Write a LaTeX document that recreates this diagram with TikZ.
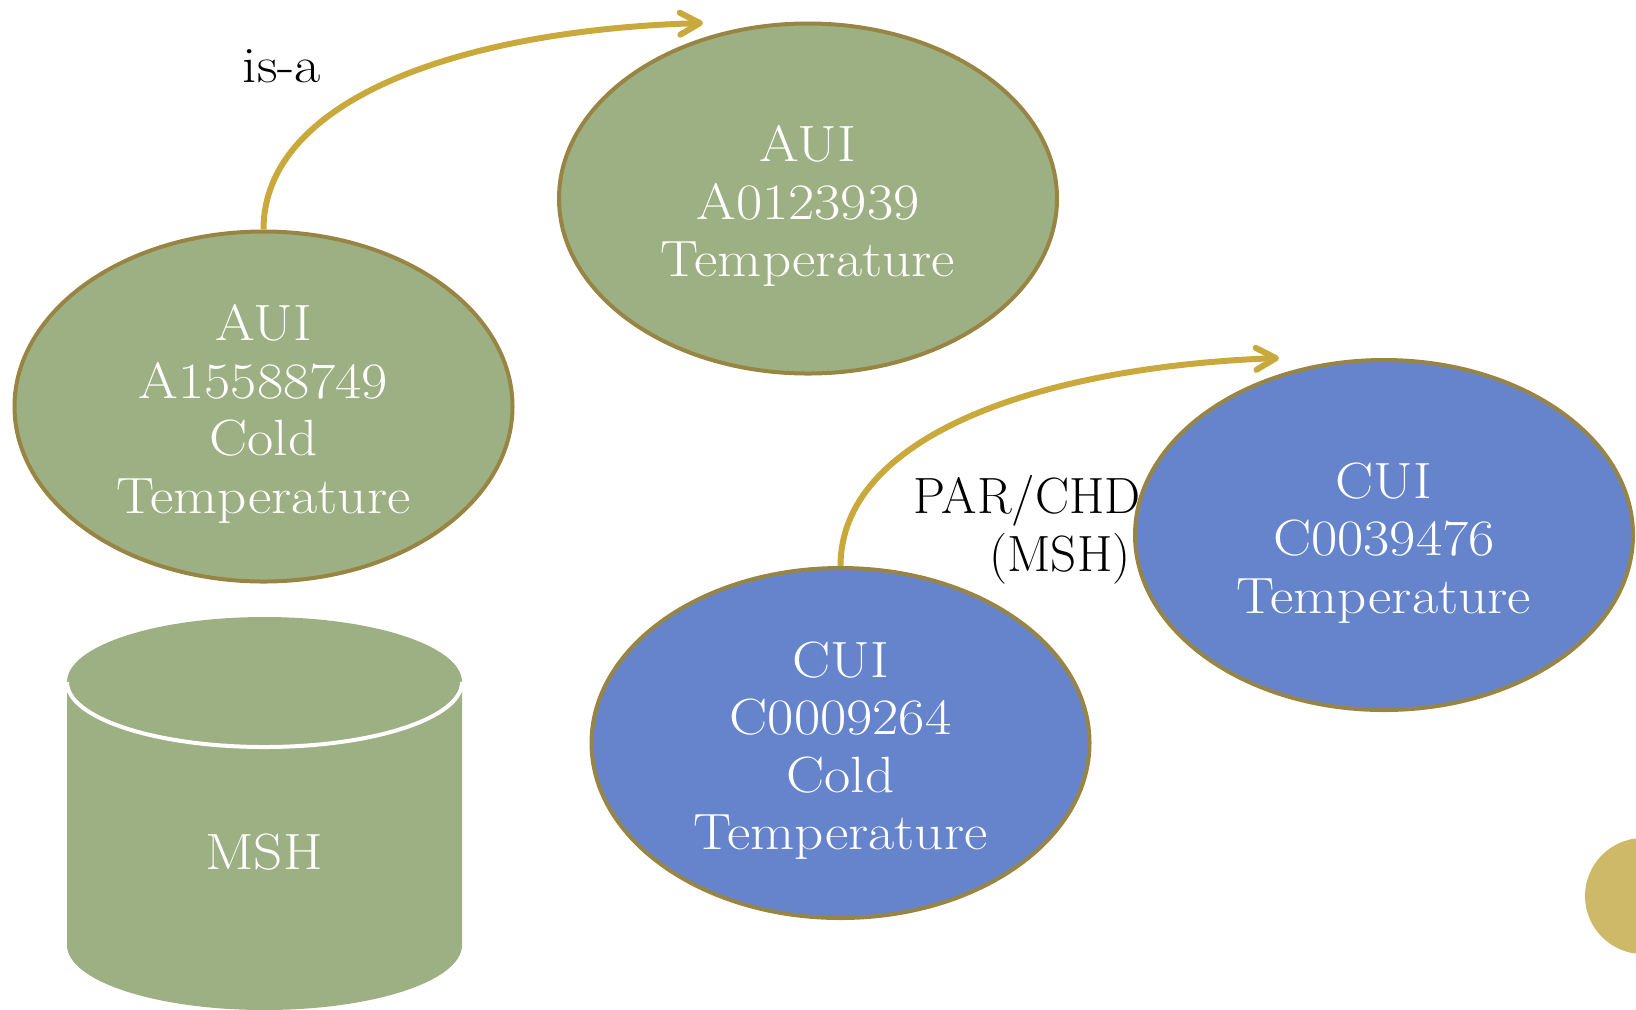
\documentclass[tikz,border=0pt]{standalone}
\usepackage{fontspec}
\newfontfamily\widefont{Latin Modern Roman}[FakeStretch=1.12]
\usetikzlibrary{shapes.geometric,arrows.meta}
\definecolor{sage}{RGB}{157,176,132}
\definecolor{rimc}{RGB}{152,133,68}
\definecolor{bluec}{RGB}{102,132,204}
\definecolor{goldc}{RGB}{201,169,60}
\definecolor{dotc}{RGB}{205,185,103}
\newcommand{\toprule}{\rule{0pt}{25.5pt}}
\tikzset{
  ell/.style={ellipse, draw=rimc, line width=2pt, inner sep=0pt, text=white,
    align=center, minimum width=249pt, minimum height=175pt,
    font=\widefont\fontsize{25.5}{28.75}\selectfont},
  conn/.style={draw=goldc, line width=3pt,
    -{Straight Barb[length=10pt,width=11pt,round]}},
  lbl/.style={inner sep=0pt, text=black, font=\fontsize{25.5}{29}\selectfont}
}
\begin{document}
\begin{tikzpicture}[x=0.5pt,y=-0.5pt]
\useasboundingbox (0,0) rectangle (1636,1009);
% cylinder
\fill[sage] (67,682) -- (67,945)
  arc[start angle=180,end angle=360,x radius=98.75pt,y radius=32.5pt]
  -- (462,682)
  arc[start angle=0,end angle=180,x radius=98.75pt,y radius=32.5pt] -- cycle;
\draw[white,line width=2pt] (67,682)
  arc[start angle=180,end angle=360,x radius=98.75pt,y radius=32.5pt];
\node[text=white,inner sep=0pt,font=\widefont\fontsize{25.5}{28.75}\selectfont] (msh) at (264,852) {MSH};
% ellipses
\node[ell,fill=sage] (a1) at (263.5,406.5) {\toprule AUI\\A15588749\\Cold\\Temperature};
\node[ell,fill=sage] (a2) at (808,198.5) {\toprule AUI\\A0123939\\Temperature};
\node[ell,fill=bluec] (c2) at (1384,535) {\toprule CUI\\C0039476\\Temperature};
\node[ell,fill=bluec] (c1) at (840.5,743) {\toprule CUI\\C0009264\\Cold\\Temperature};
% arrows
\coordinate (t1) at (703,23);
\coordinate (t2) at (1279,358);
\draw[conn] (a1.north) .. controls (263.5,100) and (460,30) .. (t1);
\draw[conn] (c1.north) .. controls (840.5,437) and (1037,367) .. (t2);
% labels
\node[lbl,font=\widefont\fontsize{25.5}{29}\selectfont] (isa) at (282,66) {is-a};
\node[lbl,align=right,anchor=east] (par) at (1141,529.5) {PAR/CHD\\(MSH)\kern0.2em};
% page marker
\fill[dotc] (1643,896) circle[radius=29pt];
\end{tikzpicture}
\end{document}
